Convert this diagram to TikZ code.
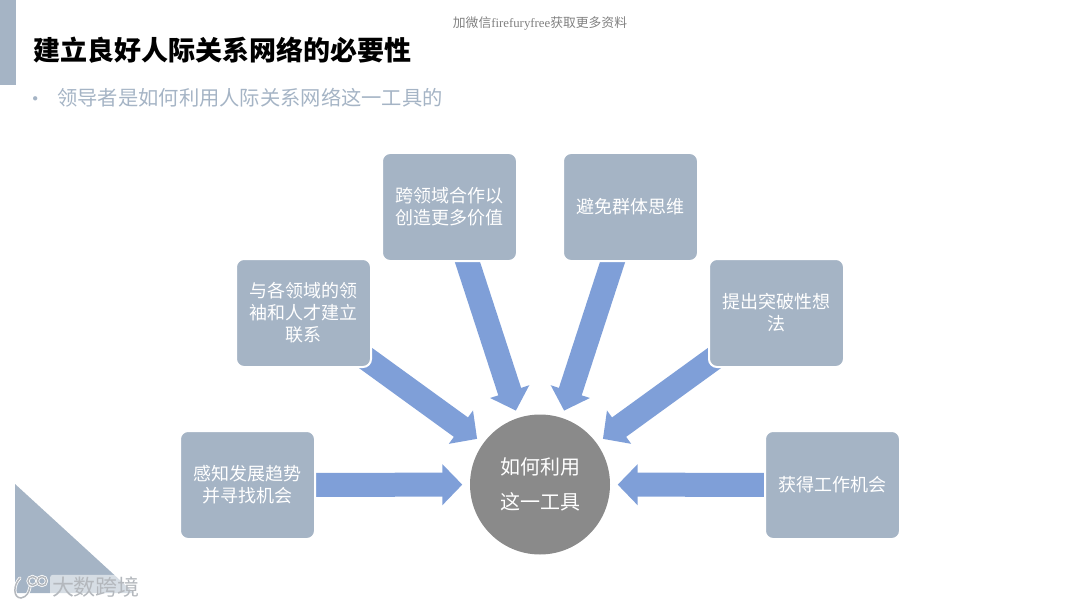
\documentclass[tikz,border=0pt]{standalone}
\usepackage{fontspec}
\setmainfont{Noto Sans CJK SC}
\newfontfamily\cjk{Noto Sans CJK SC}
\newfontfamily\latinserif{Liberation Serif}
\usetikzlibrary{arrows.meta,backgrounds}
\definecolor{netSlate}{HTML}{A5B4C5}
\definecolor{netBlue}{HTML}{7F9FD8}
\definecolor{netGray}{HTML}{8A8A8A}
\definecolor{netMark}{HTML}{B4B8BD}
\tikzset{
  net box/.style={rectangle, rounded corners=8pt, draw=white, fill=netSlate, line width=2pt, minimum width=135pt, minimum height=108pt, inner sep=0pt, align=center, text=white, font=\cjk\fontsize{18}{22}\selectfont},
  net hub/.style={circle, fill=netGray, minimum size=140pt, inner sep=0pt, align=center, text=white, font=\cjk\fontsize{20}{35}\selectfont},
  net arrow/.style={draw=netBlue, line width=24pt, shorten >=7.5pt, -{Triangle[length=20pt,width=40pt]}},
  net title/.style={anchor=west, inner sep=0pt, text=black, font=\cjk\bfseries\fontsize{27}{30}\selectfont},
  net sub/.style={anchor=west, inner sep=0pt, text=netSlate, font=\cjk\fontsize{20.3}{24}\selectfont},
  net mark/.style={inner sep=2pt, rounded corners=3pt, fill=white, fill opacity=0.55, text opacity=1, text=netMark, font=\cjk\fontsize{22}{24}\selectfont},
  net logo/.style={draw=white, double=netMark, double distance=1.5pt, line width=0.8pt, line cap=round},
}
\begin{document}
\begin{tikzpicture}[x=1pt, y=-1pt]
  \useasboundingbox (0,0) rectangle (1080,607);
  % Corner shapes of the slide
  \fill[netSlate] (0,0) rectangle (15.5,85);
  \fill[netSlate] (15,484) -- (134,593) -- (15,593) -- cycle;
  % Headings
  \node[inner sep=0pt, text=gray, font=\cjk\fontsize{12.8}{14}\selectfont] (notice) at (540,23.5) {加微信{\latinserif firefuryfree}获取更多资料};
  \node[net title] (title) at (33,50) {建立良好人际关系网络的必要性};
  \node[net sub] (bullet) at (25,102) {•};
  \node[net sub] (subtitle) at (57,98) {领导者是如何利用人际关系网络这一工具的};
  % Centre and the six boxes
  \node[net hub] (hub) at (540,484.5) {如何利用\\这一工具};
  \node[net box] (sense) at (247.5,485) {感知发展趋势\\并寻找机会};
  \node[net box] (link) at (303.5,313) {与各领域的领\\袖和人才建立\\联系};
  \node[net box] (cross) at (449.5,207) {跨领域合作以\\创造更多价值};
  \node[net box] (avoid) at (630.5,207) {避免群体思维};
  \node[net box] (idea) at (776.5,313) {提出突破性想\\法};
  \node[net box] (job) at (832.5,485) {获得工作机会};
  % Arrows run under the boxes
  \begin{scope}[on background layer]
    \foreach \src in {sense,link,cross,avoid,idea,job}
      \draw[net arrow] (\src.center) -- (hub);
  \end{scope}
  % Watermark
  \node[net mark] (mark) at (96,587) {大数跨境};
  \draw[net logo] (20,578) .. controls (13,585) and (13,598) .. (21,598) .. controls (27,597) and (29,592) .. (30,587);
  \draw[net logo] (32.5,581) circle (4.5pt);
  \draw[net logo] (42,581) circle (4.5pt);
\end{tikzpicture}
\end{document}
